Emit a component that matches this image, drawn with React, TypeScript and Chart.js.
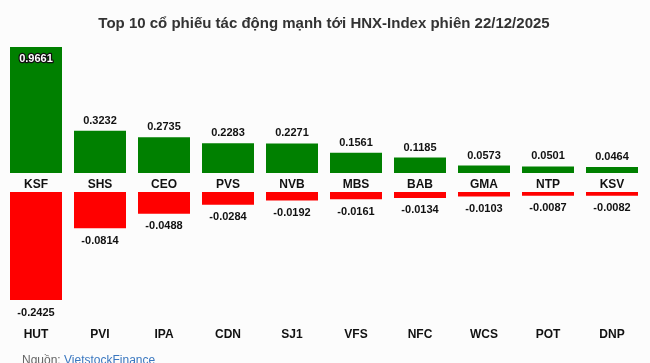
import { useEffect, useRef } from "react";
import { Chart, registerables } from "chart.js";

Chart.register(...registerables);

const positiveNames = ["KSF", "SHS", "CEO", "PVS", "NVB", "MBS", "BAB", "GMA", "NTP", "KSV"];
const positiveValues = [0.9661, 0.3232, 0.2735, 0.2283, 0.2271, 0.1561, 0.1185, 0.0573, 0.0501, 0.0464];
const negativeNames = ["HUT", "PVI", "IPA", "CDN", "SJ1", "VFS", "NFC", "WCS", "POT", "DNP"];
const negativeValues = [-0.2425, -0.0814, -0.0488, -0.0284, -0.0192, -0.0161, -0.0134, -0.0103, -0.0087, -0.0082];
const titleText = "Top 10 cổ phiếu tác động mạnh tới HNX-Index phiên 22/12/2025";
const sourceLabel = "Nguồn: ";
const sourceName = "VietstockFinance";

const FONT = '"Liberation Sans", Arial, sans-serif';
const BG = "#fcfcfc";

const labelPlugin = {
  id: "customLabels",
  beforeDraw(chart: any) {
    const ctx = chart.ctx;
    ctx.save();
    ctx.fillStyle = BG;
    ctx.fillRect(0, 0, chart.width, chart.height);
    ctx.restore();
  },
  afterDatasetsDraw(chart: any) {
    const ctx = chart.ctx;
    const area = chart.chartArea;
    const posMeta = chart.getDatasetMeta(0);
    const negMeta = chart.getDatasetMeta(1);
    const gap = chart.scales.yGap;
    ctx.save();
    ctx.textAlign = "center";
    ctx.textBaseline = "middle";
    positiveValues.forEach((v, i) => {
      const bar = posMeta.data[i];
      const txt = v.toFixed(4);
      ctx.font = `bold 11px ${FONT}`;
      let y = bar.y - 10;
      if (y - 6 < area.top) {
        y = bar.y + 12;
        ctx.lineWidth = 2.5;
        ctx.lineJoin = "round";
        ctx.strokeStyle = "#111";
        ctx.strokeText(txt, bar.x, y);
        ctx.fillStyle = "#fff";
        ctx.fillText(txt, bar.x, y);
      } else {
        ctx.fillStyle = "#111";
        ctx.fillText(txt, bar.x, y);
      }
      ctx.font = `bold 12px ${FONT}`;
      ctx.fillStyle = "#111";
      ctx.fillText(positiveNames[i], bar.x, (gap.top + gap.bottom) / 2 + 2);
    });
    negativeValues.forEach((v, i) => {
      const bar = negMeta.data[i];
      ctx.font = `bold 11px ${FONT}`;
      ctx.fillStyle = "#111";
      ctx.fillText(v.toFixed(4), bar.x, bar.y + 12.5);
      ctx.font = `bold 12px ${FONT}`;
      ctx.fillText(negativeNames[i], bar.x, area.bottom + 35);
    });
    ctx.restore();
  },
  afterDraw(chart: any) {
    const ctx = chart.ctx;
    ctx.save();
    ctx.font = `12px ${FONT}`;
    ctx.textAlign = "left";
    ctx.textBaseline = "alphabetic";
    ctx.fillStyle = "#666";
    ctx.fillText(sourceLabel, 22, 364);
    const w = ctx.measureText(sourceLabel).width;
    ctx.fillStyle = "#3b78c0";
    ctx.fillText(sourceName, 22 + w, 364);
    ctx.restore();
  },
};

export default function App() {
  const ref = useRef<HTMLCanvasElement>(null);
  useEffect(() => {
    document.body.style.margin = "0";
    document.body.style.background = BG;
    const canvas = ref.current;
    if (!canvas) return;
    const chart = new Chart(canvas, {
      type: "bar",
      data: {
        labels: positiveNames,
        datasets: [
          {
            data: positiveValues,
            yAxisID: "yPos",
            backgroundColor: "#008000",
            borderWidth: 0,
            grouped: false,
            barPercentage: 0.8125,
            categoryPercentage: 1,
          } as any,
          {
            data: negativeValues,
            yAxisID: "yNeg",
            backgroundColor: "#ff0000",
            borderWidth: 0,
            grouped: false,
            barPercentage: 0.8125,
            categoryPercentage: 1,
          } as any,
        ],
      },
      options: {
        responsive: false,
        animation: false,
        layout: { padding: { left: 4, right: 6, top: 0, bottom: 63 } },
        scales: {
          x: { type: "category", display: false, offset: true, grid: { display: false } },
          yPos: {
            type: "linear",
            position: "left",
            stack: "v",
            stackWeight: 126,
            weight: 3,
            min: 0,
            max: Math.max(...positiveValues),
            display: false,
          },
          yGap: {
            type: "linear",
            position: "left",
            stack: "v",
            stackWeight: 19,
            weight: 2,
            min: 0,
            max: 1,
            display: false,
          },
          yNeg: {
            type: "linear",
            position: "left",
            stack: "v",
            stackWeight: 108,
            weight: 1,
            min: Math.min(...negativeValues),
            max: 0,
            display: false,
          },
        } as any,
        plugins: {
          legend: { display: false },
          tooltip: { enabled: false },
          title: {
            display: true,
            text: titleText,
            color: "#333",
            font: { family: FONT, size: 15, weight: "bold" },
            padding: { top: 15, bottom: 14 },
          },
        },
      },
      plugins: [labelPlugin],
    });
    return () => chart.destroy();
  }, []);
  return <canvas ref={ref} width={650} height={363} style={{ display: "block" }} />;
}
